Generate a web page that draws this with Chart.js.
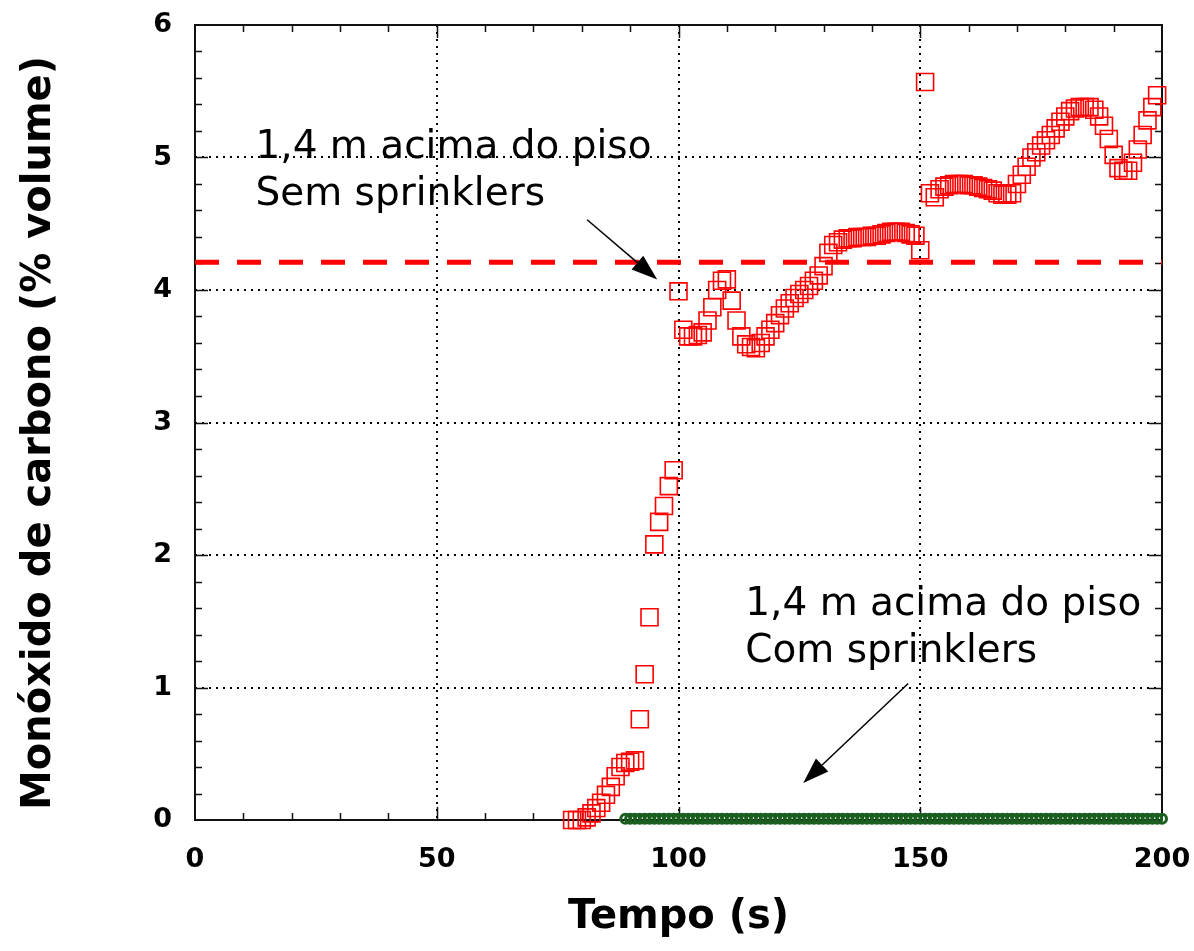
<!DOCTYPE html>
<html>
<head>
<meta charset="utf-8">
<title>Monóxido de carbono</title>
<script src="https://cdn.jsdelivr.net/npm/chart.js@4.4.1/dist/chart.umd.min.js"></script>
<style>
    body { margin: 0; background: #fff; }
    #wrap { width: 1194px; height: 951px; }
</style>
</head>
<body>
<div id="wrap"><canvas id="coChart" width="1194" height="951"></canvas></div>
<script>
// Tick labels
const xTicks = [0, 50, 100, 150, 200];
const yTicks = [0, 1, 2, 3, 4, 5, 6];

// 1,4 m acima do piso - sem sprinklers (tempo em s, CO em % volume)
const semTempo = [
    78, 79, 80, 81, 82, 83, 84, 85, 86, 87, 88, 89, 90, 91, 92, 93, 94, 95, 96, 97, 98, 99,
    100, 101, 102, 103, 104, 105, 106, 107, 108, 109, 110, 111, 112, 113, 114, 115, 116, 117, 118, 119,
    120, 121, 122, 123, 124, 125, 126, 127, 128, 129, 130, 131, 132, 133, 134, 135, 136, 137, 138, 139,
    140, 141, 142, 143, 144, 145, 146, 147, 148, 149, 150, 151, 152, 153, 154, 155, 156, 157, 158, 159,
    160, 161, 162, 163, 164, 165, 166, 167, 168, 169, 170, 171, 172, 173, 174, 175, 176, 177, 178, 179,
    180, 181, 182, 183, 184, 185, 186, 187, 188, 189, 190, 191, 192, 193, 194, 195, 196, 197, 198, 199
];
const semCO = [
    0.00, 0.00, 0.00, 0.02, 0.05, 0.09, 0.13, 0.19, 0.25, 0.33, 0.40, 0.43, 0.44, 0.45, 0.76, 1.10, 1.53, 2.08, 2.25, 2.37, 2.52, 2.64,
    3.99, 3.70, 3.65, 3.65, 3.66, 3.68, 3.77, 3.87, 4.00, 4.07, 4.08, 3.92, 3.77, 3.65, 3.59, 3.57, 3.56, 3.60, 3.65, 3.70,
    3.75, 3.81, 3.86, 3.90, 3.94, 3.97, 4.00, 4.03, 4.07, 4.11, 4.18, 4.28, 4.34, 4.36, 4.38, 4.39, 4.39, 4.40, 4.40, 4.40,
    4.41, 4.41, 4.42, 4.43, 4.44, 4.44, 4.44, 4.43, 4.42, 4.41, 4.30, 5.57, 4.73, 4.70, 4.76, 4.78, 4.79, 4.80, 4.80, 4.80,
    4.79, 4.79, 4.78, 4.77, 4.76, 4.75, 4.73, 4.72, 4.72, 4.73, 4.80, 4.87, 4.93, 5.00, 5.04, 5.09, 5.13, 5.17, 5.22, 5.27,
    5.31, 5.35, 5.37, 5.38, 5.38, 5.38, 5.36, 5.31, 5.24, 5.14, 5.02, 4.92, 4.90, 4.90, 4.96, 5.06, 5.17, 5.28, 5.38, 5.47
];

// 1,4 m acima do piso - com sprinklers
const comTempo = [
    89, 90, 91, 92, 93, 94, 95, 96, 97, 98, 99, 100, 101, 102, 103, 104, 105, 106, 107, 108, 109, 110, 111, 112,
    113, 114, 115, 116, 117, 118, 119, 120, 121, 122, 123, 124, 125, 126, 127, 128, 129, 130, 131, 132, 133, 134,
    135, 136, 137, 138, 139, 140, 141, 142, 143, 144, 145, 146, 147, 148, 149, 150, 151, 152, 153, 154, 155, 156,
    157, 158, 159, 160, 161, 162, 163, 164, 165, 166, 167, 168, 169, 170, 171, 172, 173, 174, 175, 176, 177, 178,
    179, 180, 181, 182, 183, 184, 185, 186, 187, 188, 189, 190, 191, 192, 193, 194, 195, 196, 197, 198, 199, 200
];
const comCO = [
    0.01, 0.01, 0.01, 0.01, 0.01, 0.01, 0.01, 0.01, 0.01, 0.01, 0.01, 0.01, 0.01, 0.01, 0.01, 0.01, 0.01, 0.01, 0.01, 0.01, 0.01, 0.01, 0.01, 0.01,
    0.01, 0.01, 0.01, 0.01, 0.01, 0.01, 0.01, 0.01, 0.01, 0.01, 0.01, 0.01, 0.01, 0.01, 0.01, 0.01, 0.01, 0.01, 0.01, 0.01, 0.01, 0.01,
    0.01, 0.01, 0.01, 0.01, 0.01, 0.01, 0.01, 0.01, 0.01, 0.01, 0.01, 0.01, 0.01, 0.01, 0.01, 0.01, 0.01, 0.01, 0.01, 0.01, 0.01, 0.01,
    0.01, 0.01, 0.01, 0.01, 0.01, 0.01, 0.01, 0.01, 0.01, 0.01, 0.01, 0.01, 0.01, 0.01, 0.01, 0.01, 0.01, 0.01, 0.01, 0.01, 0.01, 0.01,
    0.01, 0.01, 0.01, 0.01, 0.01, 0.01, 0.01, 0.01, 0.01, 0.01, 0.01, 0.01, 0.01, 0.01, 0.01, 0.01, 0.01, 0.01, 0.01, 0.01, 0.01, 0.01
];

// Limite (linha tracejada vermelha)
const limiteTempo = [0, 200];
const limiteCO = [4.21, 4.21];

// Annotations: text lines and arrows, in data units
const notas = [
    { x: 12.5, y: 5.0, lines: ['1,4 m acima do piso', 'Sem sprinklers'] },
    { x: 113.8, y: 1.55, lines: ['1,4 m acima do piso', 'Com sprinklers'] }
];
const setas = [
    { x1: 81.1, y1: 4.53, x2: 95.6, y2: 4.08 },
    { x1: 147.5, y1: 1.03, x2: 125.8, y2: 0.28 }
];
const yTitulo = 'Monóxido de carbono (% volume)';

function toPoints(xs, ys) {
    return xs.map((x, i) => ({ x: x, y: ys[i] }));
}

const tickFont = { family: 'DejaVu Sans', size: 27, weight: 'bold' };
const titleFont = { family: 'DejaVu Sans', size: 40, weight: 'bold' };

// Frame with inward ticks on all four sides, drawn under the markers
const framePlugin = {
    id: 'frame',
    beforeDatasetsDraw(chart) {
        const { ctx, chartArea: a, scales: { x, y } } = chart;
        ctx.save();
        ctx.strokeStyle = '#111';
        ctx.lineWidth = 1.5;
        ctx.beginPath();
        for (let v = 10; v < 200; v += 10) {
            const px = Math.round(x.getPixelForValue(v)) + 0.5;
            const len = v % 50 === 0 ? 13 : 7;
            ctx.moveTo(px, a.bottom); ctx.lineTo(px, a.bottom - len);
            ctx.moveTo(px, a.top); ctx.lineTo(px, a.top + len);
        }
        for (let k = 1; k < 30; k++) {
            const py = Math.round(y.getPixelForValue(k * 0.2)) + 0.5;
            const len = k % 5 === 0 ? 13 : 7;
            ctx.moveTo(a.left, py); ctx.lineTo(a.left + len, py);
            ctx.moveTo(a.right, py); ctx.lineTo(a.right - len, py);
        }
        ctx.stroke();
        ctx.lineWidth = 2;
        ctx.strokeRect(a.left, a.top, a.right - a.left, a.bottom - a.top);
        ctx.restore();
    },
    afterDraw(chart) {
        const { ctx, scales: { x, y } } = chart;
        ctx.save();
        ctx.fillStyle = '#000';

        // y axis title, a bit lower than the chart area centre as in the original
        ctx.save();
        ctx.translate(40, 433);
        ctx.rotate(-Math.PI / 2);
        ctx.font = 'bold 40px "DejaVu Sans"';
        ctx.textAlign = 'center';
        ctx.textBaseline = 'middle';
        ctx.fillText(yTitulo, 0, 0);
        ctx.restore();

        ctx.font = '39px "DejaVu Sans"';
        ctx.textBaseline = 'alphabetic';
        notas.forEach(n => {
            n.lines.forEach((t, i) => {
                ctx.fillText(t, x.getPixelForValue(n.x), y.getPixelForValue(n.y) + i * 47);
            });
        });
        // arrows
        ctx.strokeStyle = '#000';
        ctx.lineWidth = 1.5;
        setas.forEach(s => {
            const x1 = x.getPixelForValue(s.x1), y1 = y.getPixelForValue(s.y1);
            const x2 = x.getPixelForValue(s.x2), y2 = y.getPixelForValue(s.y2);
            const ang = Math.atan2(y2 - y1, x2 - x1);
            const hl = 26, hw = 9;
            const bx = x2 - hl * Math.cos(ang), by = y2 - hl * Math.sin(ang);
            ctx.beginPath();
            ctx.moveTo(x1, y1);
            ctx.lineTo(bx, by);
            ctx.stroke();
            ctx.beginPath();
            ctx.moveTo(x2, y2);
            ctx.lineTo(bx + hw * Math.sin(ang), by - hw * Math.cos(ang));
            ctx.lineTo(bx - hw * Math.sin(ang), by + hw * Math.cos(ang));
            ctx.closePath();
            ctx.fill();
        });
        ctx.restore();
    }
};

new Chart(document.getElementById('coChart'), {
    type: 'scatter',
    data: {
        datasets: [
            {
                type: 'line',
                data: toPoints(limiteTempo, limiteCO),
                borderColor: '#ff0000',
                borderWidth: 5,
                borderDash: [24, 18],
                pointRadius: 0,
                fill: false,
                clip: false
            },
            {
                data: toPoints(comTempo, comCO),
                pointStyle: 'circle',
                radius: 4.5,
                borderColor: '#1b5e20',
                backgroundColor: 'rgba(255,255,255,0)',
                borderWidth: 3,
                clip: false
            },
            {
                data: toPoints(semTempo, semCO),
                pointStyle: 'rect',
                radius: 12,
                borderColor: '#ff0000',
                backgroundColor: 'rgba(255,255,255,0)',
                borderWidth: 1.6,
                clip: false
            }
        ]
    },
    options: {
        responsive: false,
        animation: false,
        layout: { padding: { top: 25, right: 32, left: 0, bottom: 0 } },
        plugins: {
            legend: { display: false },
            tooltip: { enabled: false }
        },
        scales: {
            x: {
                type: 'linear',
                min: 0,
                max: 200,
                afterBuildTicks: s => { s.ticks = xTicks.map(v => ({ value: v })); },
                afterFit: s => { s.height = 131; },
                // invisible tick marks give the label gap without widening the side padding
                grid: { color: '#000', lineWidth: 2, drawTicks: true, tickLength: 24, tickColor: 'rgba(0,0,0,0)' },
                border: { display: false, dash: [2, 5] },
                ticks: { color: '#000', font: tickFont, padding: 0, maxRotation: 0 },
                title: { display: true, text: 'Tempo (s)', color: '#000', font: titleFont, padding: { top: 0, bottom: 9 } }
            },
            y: {
                min: 0,
                max: 6,
                afterBuildTicks: s => { s.ticks = yTicks.map(v => ({ value: v })); },
                afterFit: s => { s.width = 195; },
                grid: { color: '#000', lineWidth: 2, drawTicks: true, tickLength: 23, tickColor: 'rgba(0,0,0,0)' },
                border: { display: false, dash: [2, 5] },
                ticks: { color: '#000', font: tickFont, padding: 0 },
                title: { display: false }
            }
        }
    },
    plugins: [framePlugin]
});
</script>
</body>
</html>
